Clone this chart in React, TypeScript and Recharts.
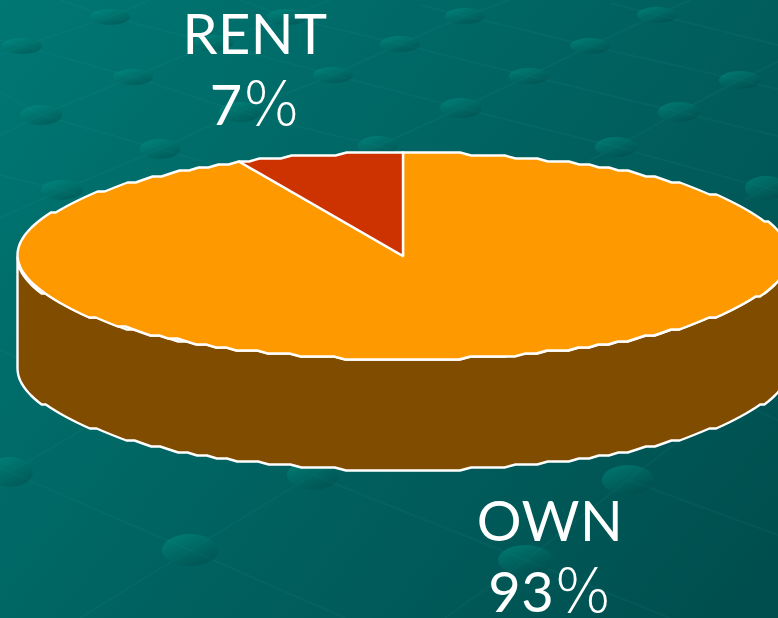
import React from "react";
import { PieChart, Pie, Cell } from "recharts";

const names = ["OWN", "RENT"];
const shares = [93, 7];
const fills = ["#FF9900", "#CC3300"];
const sideFill = "#804D00";

const pieData = names.map((name, i) => ({ name, value: shares[i] }));

const W = 778;
const H = 618;
const CX = 403;
const CY = 256;
const RX = 385.5;
const FLATTEN = 103.5 / 385.5;
const DEPTH = 111;

// background decoration: nodes of the template's grid
const nodes: [number, number, number, number][] = [
  [22, 46, 20, 8], [110, 17, 20, 8], [287, 17, 20, 8], [213, 43, 20, 8], [400, 44, 20, 8],
  [465, 16, 20, 8], [657, 15, 20, 8], [590, 46, 20, 8], [133, 77, 20, 8], [333, 75, 20, 8],
  [529, 76, 20, 8], [740, 80, 21, 9], [41, 115, 21, 10], [240, 112, 21, 10], [461, 108, 21, 10],
  [679, 112, 21, 10], [160, 149, 20, 10], [378, 146, 20, 10], [616, 147, 21, 10], [62, 190, 21, 10],
  [766, 188, 21, 12], [10, 472, 23, 15], [313, 475, 26, 15], [628, 480, 26, 15], [190, 550, 28, 16],
  [526, 560, 28, 15],
];
const gridLines = [
  "0,55 22,46 110,17 150,0",
  "0,135 41,115 133,77 213,43 287,17 330,0",
  "0,218 62,190 160,149 240,112 333,75 400,44 465,16 510,0",
  "340,165 378,146 461,108 529,76 590,46 657,15 690,0",
  "585,163 616,147 679,112 740,80 778,62",
  "745,200 766,188 778,182",
  "80,618 190,550 313,475 345,455",
  "10,472 87,427",
  "445,618 526,560 628,480 680,440",
  "0,40 22,46 133,77 240,112 378,146 420,157",
  "60,0 110,17 213,43 333,75 461,108 616,147 766,188 778,191",
  "240,0 287,17 400,44 529,76 679,112 778,136",
  "420,5 465,16 590,46 740,80 778,89",
  "610,3 657,15 778,45",
  "0,92 41,115 160,149 240,172",
  "0,175 62,190 90,200",
  "0,350 18,358",
  "0,468 190,550 345,618",
  "313,475 526,560 670,618",
  "628,480 778,535",
  "745,405 778,420",
];

const labelOffsets: Record<string, [number, number]> = {
  RENT: [-148, -202],
  OWN: [147, 285],
};

const rad = Math.PI / 180;

function edge(cx: number, cy: number, rx: number, a: number, dy = 0) {
  const ry = rx * FLATTEN;
  const top = cy - ry;
  const x = cx + rx * Math.cos(a * rad);
  const y = cy - ry * Math.sin(a * rad);
  // the reference's outline is a coarse polygon: snap to a 3px raster
  const sy = top + Math.round((y - top) / 3) * 3;
  return `${x.toFixed(1)},${(sy + dy).toFixed(1)}`;
}

function arc(cx: number, cy: number, rx: number, from: number, to: number, dy = 0) {
  const pts: string[] = [];
  const step = 1.7;
  const n = Math.max(1, Math.round(Math.abs(to - from) / step));
  for (let i = 0; i <= n; i++) pts.push(edge(cx, cy, rx, from + ((to - from) * i) / n, dy));
  return pts;
}

function EllipticSector(props: any) {
  const { cx, cy, outerRadius, startAngle, endAngle, fill } = props;
  const hi = Math.max(startAngle, endAngle);
  const lo = Math.min(startAngle, endAngle);
  const front: [number, number] = [Math.max(lo, -180), Math.min(hi, 0)];
  const top = arc(cx, cy, outerRadius, startAngle, endAngle);
  const hasSide = front[1] > front[0];
  const upper = hasSide ? arc(cx, cy, outerRadius, front[0], front[1]) : [];
  const lower = hasSide ? arc(cx, cy, outerRadius, front[1], front[0], DEPTH) : [];
  return (
    <g>
      {hasSide && (
        <path
          d={`M${upper.join("L")}L${lower.join("L")}Z`}
          fill={sideFill}
          stroke="#FFFFFF"
          strokeWidth={2.4}
          strokeLinejoin="round"
        />
      )}
      <path
        d={`M${cx},${cy}L${top.join("L")}Z`}
        fill={fill}
        stroke="#FFFFFF"
        strokeWidth={2.4}
        strokeLinejoin="round"
      />
    </g>
  );
}

function TwoLineLabel(props: any) {
  const { cx, cy, name, value } = props;
  const [dx, dy] = labelOffsets[name];
  const style = {
    fill: "#FFFFFF",
    fontFamily: "Lato, sans-serif",
    fontWeight: 400,
    fontSize: 56,
    letterSpacing: 0.5,
  };
  return (
    <g>
      <text x={cx + dx} y={cy + dy} textAnchor="middle" style={style}>{name}</text>
      <text x={cx + dx} y={cy + dy + 71} textAnchor="middle" style={style}>
        {value}
        <tspan style={{ fontFamily: "'DejaVu Sans', sans-serif", fontWeight: 200, fontSize: 60 }}>%</tspan>
      </text>
    </g>
  );
}

export default function App() {
  return (
    <div style={{ position: "absolute", left: 0, top: 0, width: W, height: H, overflow: "hidden" }}>
      <svg width={W} height={H} style={{ position: "absolute", left: 0, top: 0 }}>
        <defs>
          <linearGradient id="bg" gradientUnits="userSpaceOnUse" x1="0" y1="0" x2={W} y2={H}>
            <stop offset="0" stopColor="#007773" />
            <stop offset="1" stopColor="#004D4D" />
          </linearGradient>
          <linearGradient id="node" x1="0.1" y1="0" x2="0.8" y2="1">
            <stop offset="0" stopColor="#00A090" stopOpacity={0.45} />
            <stop offset="1" stopColor="#004040" stopOpacity={0.4} />
          </linearGradient>
        </defs>
        <rect width={W} height={H} fill="url(#bg)" />
        {gridLines.map((p, i) => (
          <polyline key={i} points={p} fill="none" stroke="#2FA8A0" strokeOpacity={0.08} strokeWidth={2} />
        ))}
        {nodes.map(([x, y, rx, ry], i) => (
          <ellipse key={i} cx={x} cy={y} rx={rx} ry={ry} fill="url(#node)" />
        ))}
      </svg>
      <div style={{ position: "absolute", left: 0, top: 0 }}>
        <PieChart width={W} height={H} margin={{ top: 0, right: 0, bottom: 0, left: 0 }}>
          <Pie
            data={pieData}
            dataKey="value"
            nameKey="name"
            cx={CX}
            cy={CY}
            outerRadius={RX}
            innerRadius={0}
            startAngle={90}
            endAngle={-270}
            paddingAngle={0}
            stroke="#FFFFFF"
            isAnimationActive={false}
            shape={EllipticSector}
            label={TwoLineLabel}
            labelLine={false}
          >
            {pieData.map((d, i) => (
              <Cell key={d.name} fill={fills[i]} />
            ))}
          </Pie>
        </PieChart>
      </div>
    </div>
  );
}
